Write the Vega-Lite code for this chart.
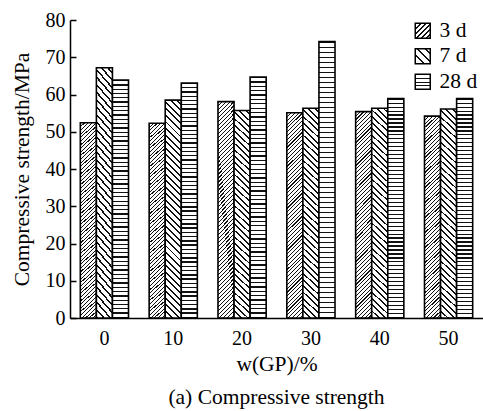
{
  "$schema": "https://vega.github.io/schema/vega-lite/v6.json",
  "width": 413,
  "height": 298,
  "autosize": {"type": "none"},
  "padding": {"left": 70, "top": 20, "right": 0, "bottom": 93},
  "params": [
    {"name": "hs", "value": [
      {"offset":0,"color":"#111"},{"offset":0.003,"color":"#111"},{"offset":0.003,"color":"#fff"},{"offset":0.01,"color":"#fff"},
      {"offset":0.01,"color":"#111"},{"offset":0.013,"color":"#111"},{"offset":0.013,"color":"#fff"},{"offset":0.02,"color":"#fff"},
      {"offset":0.02,"color":"#111"},{"offset":0.023,"color":"#111"},{"offset":0.023,"color":"#fff"},{"offset":0.03,"color":"#fff"},
      {"offset":0.03,"color":"#111"},{"offset":0.033,"color":"#111"},{"offset":0.033,"color":"#fff"},{"offset":0.04,"color":"#fff"},
      {"offset":0.04,"color":"#111"},{"offset":0.043,"color":"#111"},{"offset":0.043,"color":"#fff"},{"offset":0.05,"color":"#fff"},
      {"offset":0.05,"color":"#111"},{"offset":0.053,"color":"#111"},{"offset":0.053,"color":"#fff"},{"offset":0.06,"color":"#fff"},
      {"offset":0.06,"color":"#111"},{"offset":0.063,"color":"#111"},{"offset":0.063,"color":"#fff"},{"offset":0.07,"color":"#fff"},
      {"offset":0.07,"color":"#111"},{"offset":0.073,"color":"#111"},{"offset":0.073,"color":"#fff"},{"offset":0.08,"color":"#fff"},
      {"offset":0.08,"color":"#111"},{"offset":0.083,"color":"#111"},{"offset":0.083,"color":"#fff"},{"offset":0.09,"color":"#fff"},
      {"offset":0.09,"color":"#111"},{"offset":0.093,"color":"#111"},{"offset":0.093,"color":"#fff"},{"offset":0.1,"color":"#fff"},
      {"offset":0.1,"color":"#111"},{"offset":0.103,"color":"#111"},{"offset":0.103,"color":"#fff"},{"offset":0.11,"color":"#fff"},
      {"offset":0.11,"color":"#111"},{"offset":0.113,"color":"#111"},{"offset":0.113,"color":"#fff"},{"offset":0.12,"color":"#fff"},
      {"offset":0.12,"color":"#111"},{"offset":0.123,"color":"#111"},{"offset":0.123,"color":"#fff"},{"offset":0.13,"color":"#fff"},
      {"offset":0.13,"color":"#111"},{"offset":0.133,"color":"#111"},{"offset":0.133,"color":"#fff"},{"offset":0.14,"color":"#fff"},
      {"offset":0.14,"color":"#111"},{"offset":0.143,"color":"#111"},{"offset":0.143,"color":"#fff"},{"offset":0.15,"color":"#fff"},
      {"offset":0.15,"color":"#111"},{"offset":0.153,"color":"#111"},{"offset":0.153,"color":"#fff"},{"offset":0.16,"color":"#fff"},
      {"offset":0.16,"color":"#111"},{"offset":0.163,"color":"#111"},{"offset":0.163,"color":"#fff"},{"offset":0.17,"color":"#fff"},
      {"offset":0.17,"color":"#111"},{"offset":0.173,"color":"#111"},{"offset":0.173,"color":"#fff"},{"offset":0.18,"color":"#fff"},
      {"offset":0.18,"color":"#111"},{"offset":0.183,"color":"#111"},{"offset":0.183,"color":"#fff"},{"offset":0.19,"color":"#fff"},
      {"offset":0.19,"color":"#111"},{"offset":0.193,"color":"#111"},{"offset":0.193,"color":"#fff"},{"offset":0.2,"color":"#fff"},
      {"offset":0.2,"color":"#111"},{"offset":0.203,"color":"#111"},{"offset":0.203,"color":"#fff"},{"offset":0.21,"color":"#fff"},
      {"offset":0.21,"color":"#111"},{"offset":0.213,"color":"#111"},{"offset":0.213,"color":"#fff"},{"offset":0.22,"color":"#fff"},
      {"offset":0.22,"color":"#111"},{"offset":0.223,"color":"#111"},{"offset":0.223,"color":"#fff"},{"offset":0.23,"color":"#fff"},
      {"offset":0.23,"color":"#111"},{"offset":0.233,"color":"#111"},{"offset":0.233,"color":"#fff"},{"offset":0.24,"color":"#fff"},
      {"offset":0.24,"color":"#111"},{"offset":0.243,"color":"#111"},{"offset":0.243,"color":"#fff"},{"offset":0.25,"color":"#fff"},
      {"offset":0.25,"color":"#111"},{"offset":0.253,"color":"#111"},{"offset":0.253,"color":"#fff"},{"offset":0.26,"color":"#fff"},
      {"offset":0.26,"color":"#111"},{"offset":0.263,"color":"#111"},{"offset":0.263,"color":"#fff"},{"offset":0.27,"color":"#fff"},
      {"offset":0.27,"color":"#111"},{"offset":0.273,"color":"#111"},{"offset":0.273,"color":"#fff"},{"offset":0.28,"color":"#fff"},
      {"offset":0.28,"color":"#111"},{"offset":0.283,"color":"#111"},{"offset":0.283,"color":"#fff"},{"offset":0.29,"color":"#fff"},
      {"offset":0.29,"color":"#111"},{"offset":0.293,"color":"#111"},{"offset":0.293,"color":"#fff"},{"offset":0.3,"color":"#fff"},
      {"offset":0.3,"color":"#111"},{"offset":0.303,"color":"#111"},{"offset":0.303,"color":"#fff"},{"offset":0.31,"color":"#fff"},
      {"offset":0.31,"color":"#111"},{"offset":0.313,"color":"#111"},{"offset":0.313,"color":"#fff"},{"offset":0.32,"color":"#fff"},
      {"offset":0.32,"color":"#111"},{"offset":0.323,"color":"#111"},{"offset":0.323,"color":"#fff"},{"offset":0.33,"color":"#fff"},
      {"offset":0.33,"color":"#111"},{"offset":0.333,"color":"#111"},{"offset":0.333,"color":"#fff"},{"offset":0.34,"color":"#fff"},
      {"offset":0.34,"color":"#111"},{"offset":0.343,"color":"#111"},{"offset":0.343,"color":"#fff"},{"offset":0.35,"color":"#fff"},
      {"offset":0.35,"color":"#111"},{"offset":0.353,"color":"#111"},{"offset":0.353,"color":"#fff"},{"offset":0.36,"color":"#fff"},
      {"offset":0.36,"color":"#111"},{"offset":0.363,"color":"#111"},{"offset":0.363,"color":"#fff"},{"offset":0.37,"color":"#fff"},
      {"offset":0.37,"color":"#111"},{"offset":0.373,"color":"#111"},{"offset":0.373,"color":"#fff"},{"offset":0.38,"color":"#fff"},
      {"offset":0.38,"color":"#111"},{"offset":0.383,"color":"#111"},{"offset":0.383,"color":"#fff"},{"offset":0.39,"color":"#fff"},
      {"offset":0.39,"color":"#111"},{"offset":0.393,"color":"#111"},{"offset":0.393,"color":"#fff"},{"offset":0.4,"color":"#fff"},
      {"offset":0.4,"color":"#111"},{"offset":0.403,"color":"#111"},{"offset":0.403,"color":"#fff"},{"offset":0.41,"color":"#fff"},
      {"offset":0.41,"color":"#111"},{"offset":0.413,"color":"#111"},{"offset":0.413,"color":"#fff"},{"offset":0.42,"color":"#fff"},
      {"offset":0.42,"color":"#111"},{"offset":0.423,"color":"#111"},{"offset":0.423,"color":"#fff"},{"offset":0.43,"color":"#fff"},
      {"offset":0.43,"color":"#111"},{"offset":0.433,"color":"#111"},{"offset":0.433,"color":"#fff"},{"offset":0.44,"color":"#fff"},
      {"offset":0.44,"color":"#111"},{"offset":0.443,"color":"#111"},{"offset":0.443,"color":"#fff"},{"offset":0.45,"color":"#fff"},
      {"offset":0.45,"color":"#111"},{"offset":0.453,"color":"#111"},{"offset":0.453,"color":"#fff"},{"offset":0.46,"color":"#fff"},
      {"offset":0.46,"color":"#111"},{"offset":0.463,"color":"#111"},{"offset":0.463,"color":"#fff"},{"offset":0.47,"color":"#fff"},
      {"offset":0.47,"color":"#111"},{"offset":0.473,"color":"#111"},{"offset":0.473,"color":"#fff"},{"offset":0.48,"color":"#fff"},
      {"offset":0.48,"color":"#111"},{"offset":0.483,"color":"#111"},{"offset":0.483,"color":"#fff"},{"offset":0.49,"color":"#fff"},
      {"offset":0.49,"color":"#111"},{"offset":0.493,"color":"#111"},{"offset":0.493,"color":"#fff"},{"offset":0.5,"color":"#fff"},
      {"offset":0.5,"color":"#111"},{"offset":0.503,"color":"#111"},{"offset":0.503,"color":"#fff"},{"offset":0.51,"color":"#fff"},
      {"offset":0.51,"color":"#111"},{"offset":0.513,"color":"#111"},{"offset":0.513,"color":"#fff"},{"offset":0.52,"color":"#fff"},
      {"offset":0.52,"color":"#111"},{"offset":0.523,"color":"#111"},{"offset":0.523,"color":"#fff"},{"offset":0.53,"color":"#fff"},
      {"offset":0.53,"color":"#111"},{"offset":0.533,"color":"#111"},{"offset":0.533,"color":"#fff"},{"offset":0.54,"color":"#fff"},
      {"offset":0.54,"color":"#111"},{"offset":0.543,"color":"#111"},{"offset":0.543,"color":"#fff"},{"offset":0.55,"color":"#fff"},
      {"offset":0.55,"color":"#111"},{"offset":0.553,"color":"#111"},{"offset":0.553,"color":"#fff"},{"offset":0.56,"color":"#fff"},
      {"offset":0.56,"color":"#111"},{"offset":0.563,"color":"#111"},{"offset":0.563,"color":"#fff"},{"offset":0.57,"color":"#fff"},
      {"offset":0.57,"color":"#111"},{"offset":0.573,"color":"#111"},{"offset":0.573,"color":"#fff"},{"offset":0.58,"color":"#fff"}
    ]}
  ],
  "data": {"values": [
    {"w": 0, "age": "3 d", "v": 52.4}, {"w": 0, "age": "7 d", "v": 67.2}, {"w": 0, "age": "28 d", "v": 63.9},
    {"w": 10, "age": "3 d", "v": 52.3}, {"w": 10, "age": "7 d", "v": 58.5}, {"w": 10, "age": "28 d", "v": 63.1},
    {"w": 20, "age": "3 d", "v": 58.1}, {"w": 20, "age": "7 d", "v": 55.7}, {"w": 20, "age": "28 d", "v": 64.7},
    {"w": 30, "age": "3 d", "v": 55.1}, {"w": 30, "age": "7 d", "v": 56.3}, {"w": 30, "age": "28 d", "v": 74.2},
    {"w": 40, "age": "3 d", "v": 55.4}, {"w": 40, "age": "7 d", "v": 56.3}, {"w": 40, "age": "28 d", "v": 58.9},
    {"w": 50, "age": "3 d", "v": 54.2}, {"w": 50, "age": "7 d", "v": 56.1}, {"w": 50, "age": "28 d", "v": 58.9}
  ]},
  "mark": {
    "type": "bar",
    "strokeWidth": 1.6,
    "strokeJoin": "miter",
    "fill": {"expr": "datum.age === '3 d' ? {gradient: 'linear', x1: 0, y1: 0, x2: 0.1443, y2: 1.8475, stops: hs} : datum.age === '7 d' ? {gradient: 'linear', x1: 0, y1: 1, x2: 0.2197, y2: -1.979, stops: hs} : datum.age === '28 d' ? {gradient: 'linear', x1: 0, y1: 0, x2: 0, y2: 1.8085, stops: hs} : (datum.value === '3 d' || datum.index === 0) ? {gradient: 'linear', x1: 0, y1: 0, x2: 16.67, y2: 16.67, stops: hs} : (datum.value === '7 d' || datum.index === 1) ? {gradient: 'linear', x1: 0, y1: 1, x2: 26.67, y2: -25.67, stops: hs} : {gradient: 'linear', x1: 0, y1: 0, x2: 0, y2: 24.67, stops: hs}"}
  },
  "encoding": {
    "x": {
      "field": "w", "type": "ordinal",
      "scale": {"paddingInner": 0.3, "paddingOuter": 0.15},
      "axis": {
        "title": "w(GP)/%", "labelAngle": 0, "ticks": false, "tickSize": 0,
        "labelPadding": 10, "labelFontSize": 20, "titleFontSize": 21.5, "titlePadding": 5,
        "labelFont": "Liberation Serif", "titleFont": "Liberation Serif",
        "domainWidth": 1.5
      }
    },
    "xOffset": {"field": "age", "type": "nominal", "scale": {"domain": ["3 d", "7 d", "28 d"], "paddingInner": 0, "paddingOuter": 0}},
    "y": {
      "field": "v", "type": "quantitative",
      "scale": {"domain": [0, 80], "nice": false},
      "axis": {
        "title": "Compressive strength/MPa", "values": [0, 10, 20, 30, 40, 50, 60, 70, 80],
        "tickSize": -6, "tickWidth": 1.5, "domainWidth": 1.5,
        "labelFont": "Liberation Serif", "titleFont": "Liberation Serif",
        "labelPadding": 11, "labelFontSize": 20, "titleFontSize": 21.5, "titlePadding": 12
      }
    },
    "stroke": {
      "field": "age", "type": "nominal",
      "scale": {"domain": ["3 d", "7 d", "28 d"], "range": ["#000", "#000", "#000"]},
      "legend": {
        "title": null, "orient": "none", "legendX": 342, "legendY": 0,
        "symbolType": "square", "symbolSize": 225, "symbolStrokeWidth": 1.5, "symbolOpacity": 1,
        "labelFontSize": 21.5, "labelFont": "Liberation Serif", "labelFontWeight": "normal", "labelColor": "#000", "labelOffset": 6,
        "rowPadding": 2.5, "padding": 0
      }
    }
  },
  "title": {
    "text": "(a) Compressive strength", "orient": "bottom", "anchor": "middle",
    "fontSize": 21.5, "font": "Liberation Serif", "fontWeight": "normal", "color": "#000", "offset": 12
  },
  "config": {
    "font": "Liberation Serif",
    "view": {"stroke": null},
    "axis": {
      "labelFont": "Liberation Serif", "titleFont": "Liberation Serif", "titleFontWeight": "normal",
      "labelColor": "#000", "titleColor": "#000", "domainColor": "#000", "tickColor": "#000", "grid": false
    },
    "legend": {"labelFont": "Liberation Serif"}
  }
}
